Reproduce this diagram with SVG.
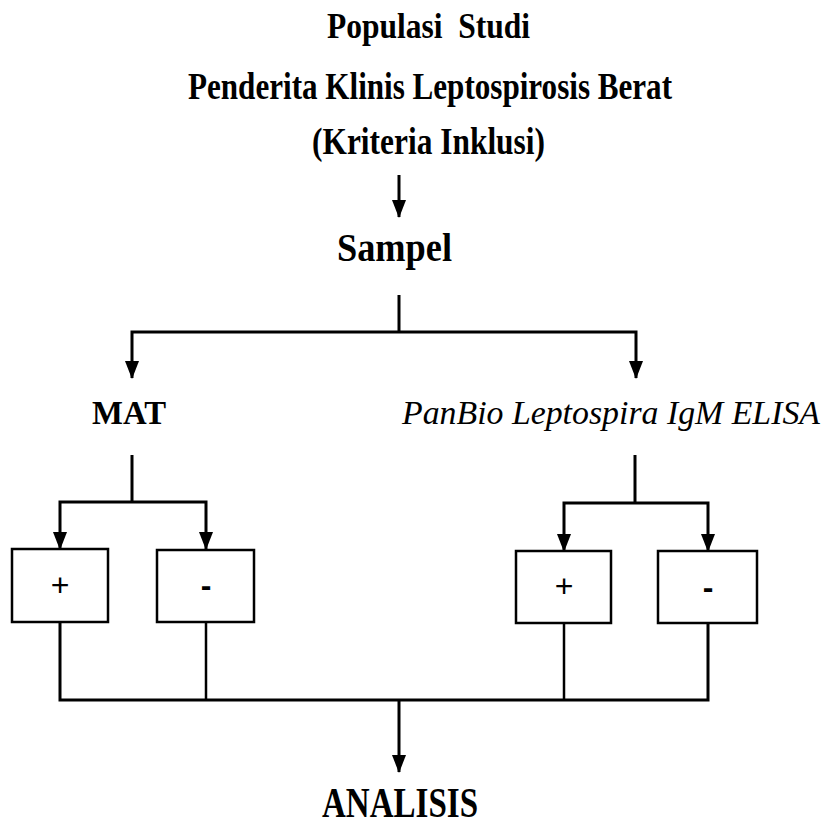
<svg xmlns="http://www.w3.org/2000/svg" width="830" height="827" viewBox="0 0 830 827">
<defs>
<marker id="ah" markerUnits="userSpaceOnUse" markerWidth="18" markerHeight="14" refX="17" refY="7" orient="auto-start-reverse" viewBox="0 0 18 14">
<path d="M0,0 L18,7 L0,14 Z" fill="#000"/>
</marker>
<style>
.t{font-family:"Liberation Serif","Times New Roman",serif;font-weight:bold;fill:#000}
.ti{font-family:"Liberation Serif","Times New Roman",serif;font-style:italic;fill:#000}
.s{font-family:"Liberation Sans",Arial,sans-serif;fill:#000}
.box{fill:#fff;stroke:#000;stroke-width:2.5}
.c{fill:none;stroke:#000;stroke-width:3}
.c2{fill:none;stroke:#000;stroke-width:2.5}
</style>
</defs>
<rect width="830" height="827" fill="#fff"/>
<g id="title">
<text class="t" x="327" y="38" font-size="36" textLength="203" lengthAdjust="spacingAndGlyphs" xml:space="preserve">Populasi  Studi</text>
<text class="t" x="188" y="99" font-size="37" textLength="484" lengthAdjust="spacingAndGlyphs">Penderita Klinis Leptospirosis Berat</text>
<text class="t" x="312" y="154" font-size="37" textLength="233" lengthAdjust="spacingAndGlyphs">(Kriteria Inklusi)</text>
</g>
<g id="sampel">
<text class="t" x="337" y="261" font-size="40" textLength="115" lengthAdjust="spacingAndGlyphs">Sampel</text>
</g>
<g id="mat">
<text class="t" x="92" y="424" font-size="34" textLength="74" lengthAdjust="spacingAndGlyphs">MAT</text>
</g>
<g id="elisa">
<text class="ti" x="402" y="424" font-size="34" textLength="418" lengthAdjust="spacingAndGlyphs">PanBio Leptospira IgM ELISA</text>
</g>
<g id="mat-pos">
<rect class="box" x="12" y="549" width="96" height="73"/>
<text class="s" x="60" y="596" font-size="32" text-anchor="middle">+</text>
</g>
<g id="mat-neg">
<rect class="box" x="157" y="550" width="97" height="72"/>
<text class="s" x="206" y="596" font-size="32" text-anchor="middle" font-weight="bold">-</text>
</g>
<g id="elisa-pos">
<rect class="box" x="516" y="551" width="95" height="72"/>
<text class="s" x="564" y="597" font-size="32" text-anchor="middle">+</text>
</g>
<g id="elisa-neg">
<rect class="box" x="658" y="551" width="99" height="72"/>
<text class="s" x="708" y="598" font-size="32" text-anchor="middle" font-weight="bold">-</text>
</g>
<g id="analisis">
<text class="t" x="322" y="817" font-size="42" textLength="156" lengthAdjust="spacingAndGlyphs">ANALISIS</text>
</g>
<g id="connectors">
<path class="c" d="M399,175 V217" marker-end="url(#ah)"/>
<path class="c" d="M399,295 V332"/>
<path class="c" d="M132,378 V332 H636 V378" marker-start="url(#ah)" marker-end="url(#ah)"/>
<path class="c" d="M132,455 V502"/>
<path class="c" d="M60,549 V502 H206 V549" marker-start="url(#ah)" marker-end="url(#ah)"/>
<path class="c" d="M635,455 V503"/>
<path class="c" d="M564,551 V503 H708 V551" marker-start="url(#ah)" marker-end="url(#ah)"/>
<path class="c" d="M60,622 V700 H708 V623"/>
<path class="c2" d="M206,622 V700"/>
<path class="c2" d="M564,623 V700"/>
<path class="c" d="M399,700 V772" marker-end="url(#ah)"/>
</g>
</svg>
